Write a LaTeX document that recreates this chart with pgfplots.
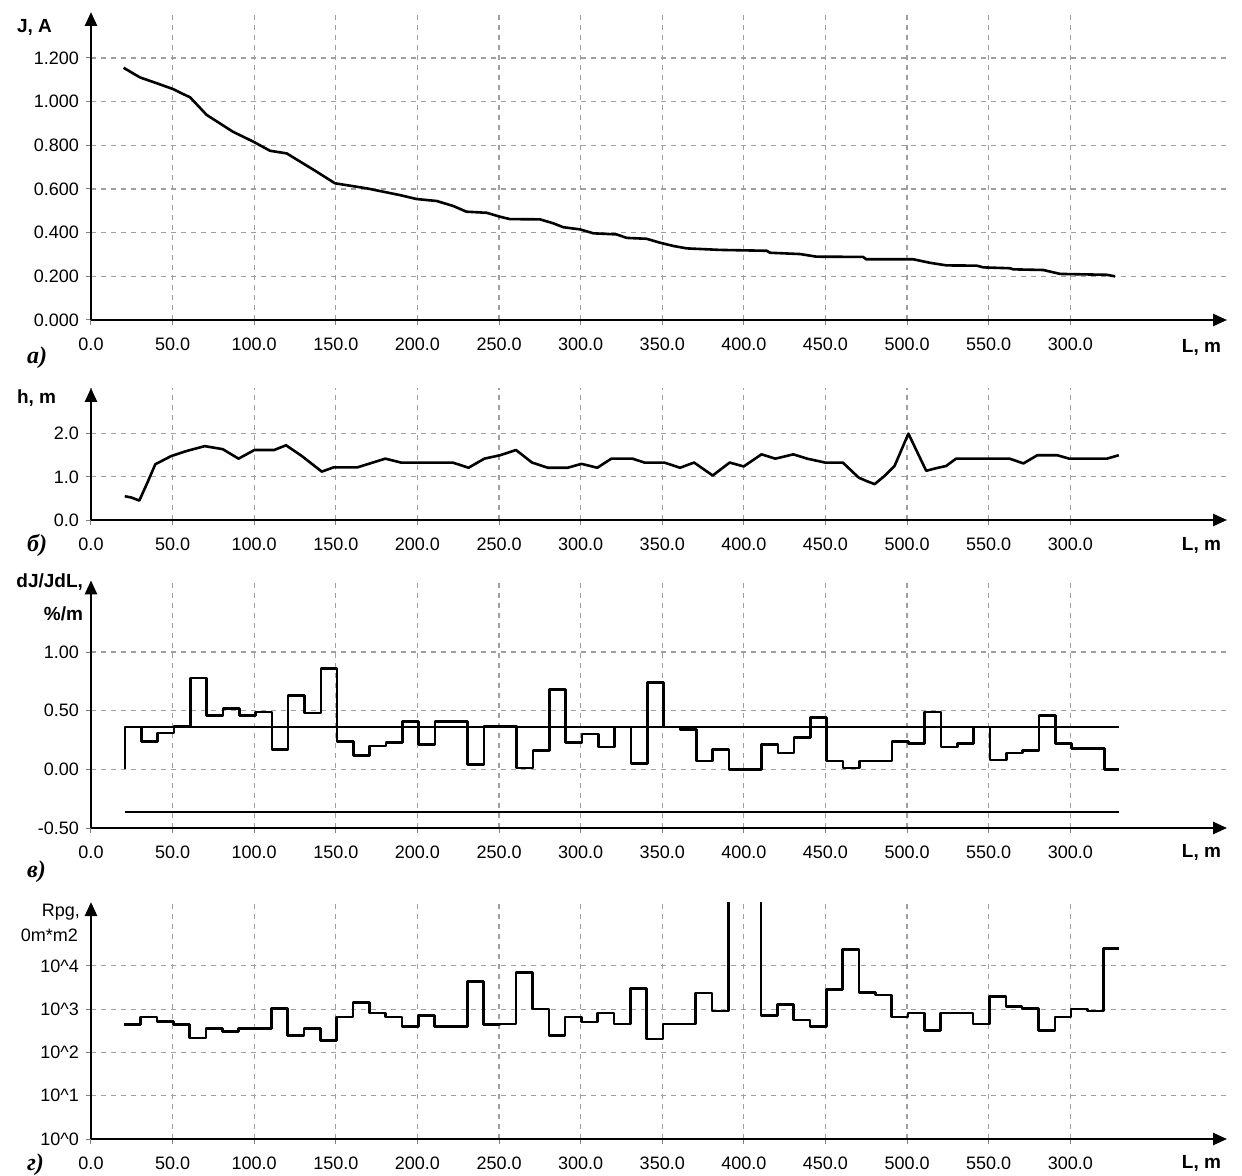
\documentclass[border=0pt]{standalone}
\usepackage{fontspec}
\setmainfont{Liberation Sans}
\newfontfamily\letterfont{Liberation Serif}
\usepackage{pgfplots}
\pgfplotsset{compat=1.18}
\usetikzlibrary{arrows.meta}

\pgfplotsset{
  panel/.style={
    scale only axis, width=568pt, xmin=0, xmax=696,
    axis lines*=left, enlargelimits=false,
    axis line style={line width=1.3pt, -{Triangle[length=7pt,width=6pt]}},
    grid=major,
    grid style={gray!75, line width=0.6pt, dash pattern=on 2.5pt off 2.5pt},
    tick align=outside, major tick length=2.5pt,
    tick style={gray, line width=0.5pt},
    xtick={0,50,...,600},
    xticklabels={0.0,50.0,100.0,150.0,200.0,250.0,300.0,350.0,400.0,450.0,500.0,550.0,300.0},
    ticklabel style={font=\fontsize{9}{10}\selectfont},
    xticklabel style={yshift=-3pt},
    anchor=south west,
  },
  curve/.style={black, line width=1.3pt, line join=round, no marks},
}
\newcommand\lab{\fontsize{9.5}{11}\selectfont\bfseries}
\newcommand\plab{\letterfont\fontsize{12}{13}\selectfont\bfseries\itshape}

\begin{document}
\begin{tikzpicture}[x=0.5pt,y=0.5pt]
\useasboundingbox (0,0) rectangle (1242,-1176);

% a) current
\begin{axis}[panel, at={(45.5pt,-160pt)}, height=154pt,
  ymin=0, ymax=1.4106, ytick={0,0.2,...,1.2},
  yticklabels={0.000,0.200,0.400,0.600,0.800,1.000,1.200}]
\addplot[curve] coordinates {
(20,1.155) (30,1.111) (40,1.085) (50.5,1.057) (55,1.04) (60.7,1.02) (70.9,0.939)
(87,0.862) (99.4,0.817) (109.7,0.775) (119.9,0.763) (138.3,0.679) (149.5,0.626)
(168.9,0.603) (189.3,0.572) (199.5,0.554) (211.8,0.545) (222,0.522) (230,0.496)
(242.4,0.491) (250.6,0.473) (256.7,0.462) (275,0.461) (283.2,0.443) (289.3,0.425)
(299.6,0.415) (307.8,0.397) (322,0.392) (328.2,0.376) (340.4,0.372) (348.6,0.354)
(356.8,0.339) (365,0.328) (385.4,0.321) (414,0.317) (416,0.308) (434.4,0.302)
(444.5,0.29) (473,0.289) (475,0.278) (503.8,0.278) (514,0.262) (524.2,0.25)
(542.6,0.249) (546.7,0.241) (563,0.237) (565,0.232) (583.4,0.229) (593.8,0.211)
(622.3,0.207) (627.4,0.2)
};
\end{axis}

% b) depth
\begin{axis}[panel, at={(45.5pt,-260pt)}, height=66pt,
  ymin=0, ymax=3.056, ytick={0,1,2},
  yticklabels={0.0,1.0,2.0}]
\addplot[curve] coordinates {
(20.7,0.55) (24.8,0.52) (29.6,0.45) (34.5,0.86) (39.4,1.29) (49.1,1.48) (58.8,1.6)
(69.7,1.71) (80.7,1.64) (90.4,1.42) (100.1,1.62) (112.2,1.62) (119.5,1.73)
(129.2,1.48) (141.4,1.12) (148.7,1.22) (163.3,1.22) (180.3,1.42) (189.9,1.33)
(221.6,1.33) (231.3,1.21) (241,1.42) (250.7,1.5) (260.4,1.62) (270.2,1.33)
(279.9,1.21) (292,1.21) (300.5,1.3) (310.2,1.21) (318.8,1.42) (331.8,1.42)
(339,1.33) (351.2,1.33) (360.9,1.21) (369.5,1.33) (380.9,1.03) (391.3,1.33)
(399.9,1.24) (410.8,1.52) (419.3,1.42) (430.3,1.52) (438.8,1.42) (449.7,1.33)
(460.6,1.33) (470.4,0.98) (475.3,0.9) (480.1,0.83) (486.2,1.02) (492.3,1.25)
(500.8,2.0) (511.7,1.14) (519,1.21) (523.9,1.25) (530,1.42) (562.8,1.42)
(571.3,1.31) (579.8,1.5) (592,1.5) (599.3,1.42) (622.4,1.42) (629.7,1.5)
};
\end{axis}

% c) dJ/JdL
\begin{axis}[panel, at={(45.5pt,-414pt)}, height=123.8pt,
  ymin=-0.5, ymax=1.611, ytick={-0.5,0,0.5,1},
  yticklabels={-0.50,0.00,0.50,1.00}]
\addplot[black, line width=1pt] coordinates {(20.8,0.36) (630,0.36)};
\addplot[black, line width=1pt] coordinates {(20.8,-0.36) (630,-0.36)};
\addplot[curve, const plot] coordinates {
(20.8,0) (20.8,0.36) (30.8,0.24) (40.8,0.31) (50.8,0.37) (60.8,0.78) (70.8,0.46)
(80.8,0.52) (90.8,0.46) (100.8,0.49) (110.8,0.17) (120.8,0.63) (130.8,0.48)
(140.8,0.86) (150.8,0.24) (160.8,0.12) (170.8,0.20) (180.8,0.23) (190.8,0.41)
(200.8,0.21) (210.8,0.41) (230.8,0.04) (240.8,0.37) (260.8,0.01) (270.8,0.16)
(280.8,0.68) (290.8,0.23) (300.8,0.30) (310.8,0.19) (320.8,0.36) (330.8,0.05)
(340.8,0.74) (350.8,0.36) (360.8,0.34) (370.8,0.07) (380.8,0.17) (390.8,0.0)
(410.8,0.21) (420.8,0.14) (430.8,0.27) (440.8,0.44) (450.8,0.07) (460.8,0.01)
(470.8,0.07) (490.8,0.24) (500.8,0.22) (510.8,0.49) (520.8,0.19) (530.8,0.22)
(540.8,0.36) (550.8,0.08) (560.8,0.14) (570.8,0.16) (580.8,0.46) (590.8,0.22)
(600.8,0.18) (620.8,0.0) (629.6,0.0)
};
\end{axis}

% d) Rpg
\begin{axis}[panel, at={(45.5pt,-569.5pt)}, height=118.5pt,
  ymode=log, ymin=1, ymax=297850, ytick={1,10,100,1000,10000},
  yminorticks=false,
  yticklabels={10\textasciicircum 0,10\textasciicircum 1,10\textasciicircum 2,10\textasciicircum 3,10\textasciicircum 4}]
\addplot[curve, const plot] coordinates {
(20.5,437) (30.5,661) (40.5,525) (50.5,437) (60.5,214) (70.5,355) (80.5,302)
(90.5,355) (110.5,1047) (120.5,245) (130.5,355) (140.5,191) (150.5,661)
(160.5,1413) (170.5,813) (180.5,661) (190.5,398) (200.5,708) (210.5,398)
(230.5,4365) (240.5,437) (250.5,457) (260.5,7079) (270.5,1000) (280.5,245)
(290.5,661) (300.5,501) (310.5,813) (320.5,457) (330.5,3020) (340.5,204)
(350.5,457) (370.5,2344) (380.5,912) (390.5,10000000) (410.5,708) (420.5,1259)
(430.5,562) (440.5,398) (450.5,2818) (460.5,23988) (470.5,2399) (480.5,2138)
(490.5,661) (500.5,813) (510.5,324) (520.5,813) (540.5,457) (550.5,1950)
(560.5,1148) (570.5,1047) (580.5,324) (590.5,661) (600.5,1000) (610.5,912)
(620.5,25119) (630,25119)
};
\end{axis}

% axis titles
\node[anchor=west] at (10,-27) {\lab J, A};
\node[anchor=west] at (10,-398) {\lab h, m};
\node[anchor=east] at (90,-582) {\lab dJ/JdL,};
\node[anchor=east] at (90,-614) {\lab \%/m};
\node[anchor=east] at (87,-912) {\fontsize{9}{10}\selectfont Rpg,};
\node[anchor=east] at (85,-935) {\fontsize{9}{10}\selectfont 0m*m2};
\foreach \yy in {347,545,852,1163}
  \node[anchor=east] at (1228,-\yy) {\lab L, m};
% panel letters
\node[anchor=west] at (20,-358) {\plab а)};
\node[anchor=west] at (20,-545) {\plab б)};
\node[anchor=west] at (20,-872) {\plab в)};
\node[anchor=west] at (20,-1165) {\plab г)};
\end{tikzpicture}
\end{document}
